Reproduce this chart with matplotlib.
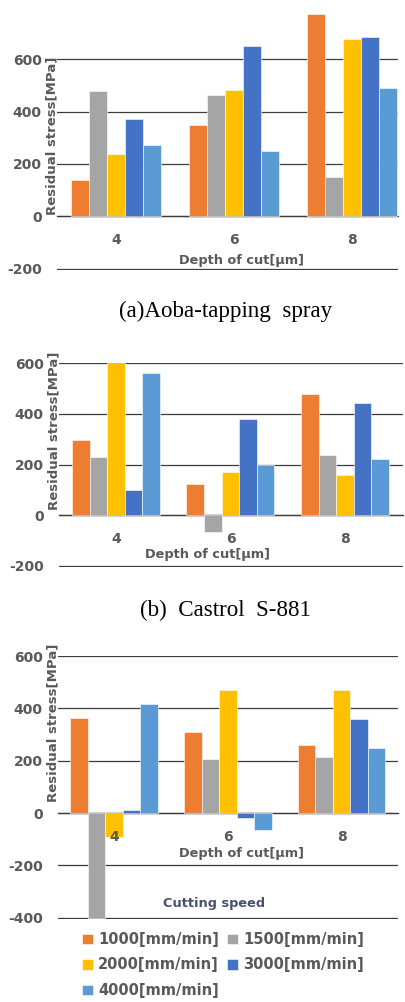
import matplotlib.pyplot as plt
import numpy as np

# depth of cut categories and cutting speeds
depths = ["4", "6", "8"]
speeds = ["1000[mm/min]", "1500[mm/min]", "2000[mm/min]", "3000[mm/min]", "4000[mm/min]"]
colors = ["#ED7D31", "#A5A5A5", "#FFC000", "#4472C4", "#5B9BD5"]

# residual stress [MPa], one row per cutting speed
aoba = [[140, 350, 772],
        [479, 462, 151],
        [239, 483, 676],
        [371, 650, 683],
        [273, 248, 489]]
castrol = [[296, 125, 479],
           [229, -67, 239],
           [607, 171, 158],
           [99, 382, 443],
           [563, 199, 222]]
third = [[362, 310, 260],
         [-400, 205, 214],
         [-93, 470, 470],
         [13, -20, 360],
         [418, -65, 250]]

W, H = 406, 1002
fig = plt.figure(figsize=(W / 100, H / 100), dpi=100)
plt.rcParams['font.family'] = ['DejaVu Sans']

txt = "#595959"
grid_c = "#3c3c3c"
bw = 0.1537


def panel(rect_px, data, ylim, yticks, xlim, ylab_y, xlab_xy):
    l, t, r, b = rect_px
    ax = fig.add_axes([l / W, 1 - b / H, (r - l) / W, (b - t) / H])
    x = np.arange(len(depths))
    bars = []
    for k, vals in enumerate(data):
        bc = ax.bar(x + (k - 2) * bw, vals, bw, color=colors[k],
                    edgecolor="white", linewidth=0.4, zorder=2)
        bars.append(bc)
    ax.set_xlim(*xlim)
    ax.set_ylim(*ylim)
    ax.set_yticks(yticks)
    ax.set_yticklabels([str(v) for v in yticks])
    ax.set_xticks(x)
    ax.set_xticklabels(depths)
    ax.set_axisbelow(True)
    ax.xaxis.set_zorder(3)  # depth labels sit on top of the bars
    ax.yaxis.grid(True, color=grid_c, linewidth=0.9)
    for s in ["top", "right", "left"]:
        ax.spines[s].set_visible(False)
    ax.spines["bottom"].set_position(("data", 0))
    ax.spines["bottom"].set_color(grid_c)
    ax.spines["bottom"].set_linewidth(0.9)
    ax.spines["bottom"].set_zorder(1)
    ax.tick_params(axis="y", length=0, pad=11, labelsize=10, labelcolor=txt)
    ax.tick_params(axis="x", length=0, pad=12, labelsize=10, labelcolor=txt)
    for lab in ax.get_xticklabels() + ax.get_yticklabels():
        lab.set_fontweight("bold")
    ax.set_ylabel("Residual stress[MPa]", fontsize=9.5, fontweight="bold", color=txt)
    ax.yaxis.set_label_coords(0.003, ylab_y)
    ax.text(xlab_xy[0], xlab_xy[1], "Depth of cut[μm]", transform=ax.transAxes,
            ha="center", va="center", fontsize=9.3, fontweight="bold", color=txt,
            zorder=4)
    ax.patch.set_alpha(0)
    return ax, bars


panel((57, 0, 398, 270), aoba, (-204, 825), [-200, 0, 200, 400, 600],
      (-0.5, 2.39), 0.497, (0.5425, 0.036))
panel((59, 363.3, 403, 567), castrol, (-204, 600), [-200, 0, 200, 400, 600],
      (-0.498, 2.507), 0.667, (0.433, 0.062))
ax3, bars3 = panel((58, 656, 398, 919), third, (-405, 600),
                   [-400, -200, 0, 200, 400, 600],
                   (-0.492, 2.495), 0.747, (0.541, 0.25))

cap_font = ["Liberation Serif", "DejaVu Serif"]
fig.text(226 / W, 1 - 311.7 / H, "(a)Aoba-tapping  spray", ha="center", va="center",
         fontsize=16.6, family=cap_font)
fig.text(226 / W, 1 - 610 / H, "(b)  Castrol  S-881", ha="center", va="center",
         fontsize=16.6, family=cap_font)

fig.text(214.5 / W, 1 - 903 / H, "Cutting speed", ha="center", va="center",
         fontsize=9.3, fontweight="bold", color="#44546A")

order = [0, 2, 4, 1, 3]
leg = fig.legend([bars3[i] for i in order], [speeds[i] for i in order],
                 loc="upper left", bbox_to_anchor=(82 / W, 1 - 932 / H), ncol=2,
                 frameon=False, fontsize=10.5, handlelength=0.75, handleheight=0.75,
                 handletextpad=0.35, columnspacing=0.55, labelspacing=0.72,
                 borderaxespad=0, borderpad=0)
for t in leg.get_texts():
    t.set_fontweight("bold")
    t.set_color(txt)

fig.savefig("out.png", dpi=100)
